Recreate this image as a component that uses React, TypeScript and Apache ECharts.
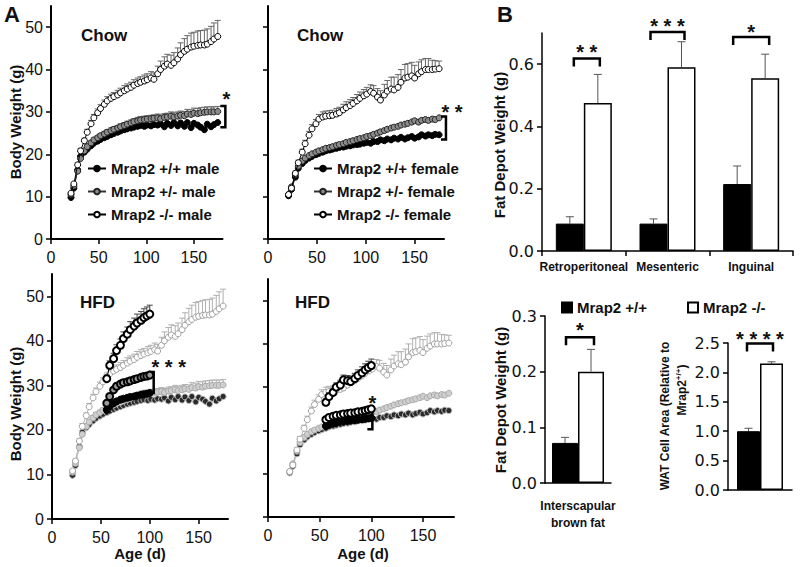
import React, { useEffect, useRef } from 'react';
import * as echarts from 'echarts';

const FONT = '"Liberation Sans", Arial, Helvetica, sans-serif';
const FONT_B = '"DejaVu Sans", Verdana, sans-serif';

// ---------- Panel A data (age in days, body weight in g) ----------
const chowDays = [21, 24, 28, 31, 35, 38, 42, 45, 49, 52, 56, 59, 63, 66, 70, 73, 77, 80, 84, 87, 91, 94, 98, 101, 105, 108, 112, 115, 119, 122, 126, 129, 133, 136, 140, 143, 147, 150, 154, 157, 161, 164, 168, 171, 175];

const maleKO = [10.8, 13, 17.5, 20.8, 23.2, 25.2, 27.2, 28.6, 29.8, 30.8, 31.8, 32.6, 33.2, 33.6, 34, 34.5, 35, 35.4, 35.8, 36.3, 36.7, 37, 37.3, 37.6, 38, 37.7, 39, 40, 40.8, 41.3, 41, 41.6, 42.5, 43.5, 44.3, 44.8, 45.3, 45.5, 45.7, 45.8, 45.8, 46, 46.6, 47.2, 47.8];
const maleKOErr = [0.3, 0.4, 0.5, 0.6, 0.6, 0.7, 0.8, 0.8, 0.9, 0.9, 1, 1, 1, 1, 1.1, 1.1, 1.2, 1.2, 1.2, 1.3, 1.3, 1.3, 1.4, 1.4, 1.5, 1.5, 1.8, 2, 2.2, 2.3, 2.4, 2.4, 2.6, 2.8, 3, 3.2, 3.3, 3.3, 3.4, 3.4, 3.5, 3.6, 3.6, 3.8, 3.8];
const maleHet = [10.5, 12.5, 16, 19, 20.8, 21.8, 22.7, 23.4, 23.9, 24.4, 24.8, 25.2, 25.6, 25.9, 26.2, 26.5, 26.8, 27.1, 27.4, 27.7, 27.9, 28.1, 28.2, 28.3, 28.4, 28.5, 28.6, 28.4, 28.7, 28.8, 29, 28.8, 29, 29.2, 29.1, 29.5, 29.4, 29.7, 29.6, 29.8, 29.9, 30, 30, 30, 30.1];
const maleHetErr = [0.3, 0.3, 0.4, 0.4, 0.4, 0.5, 0.5, 0.5, 0.5, 0.5, 0.6, 0.6, 0.6, 0.6, 0.6, 0.7, 0.7, 0.7, 0.7, 0.7, 0.8, 0.8, 0.8, 0.8, 0.8, 0.8, 0.9, 0.9, 0.9, 0.9, 1, 1, 1, 1, 1, 1.1, 1.1, 1.2, 1.2, 1.2, 1.2, 1.2, 1.2, 1.2, 1.2];
const maleWT = [9.8, 12, 16.3, 19.5, 20.5, 21.2, 22, 22.6, 23.1, 23.5, 23.9, 24.2, 24.6, 24.9, 25.2, 25.5, 25.8, 26, 26.2, 26.4, 26.6, 26.8, 26.6, 26.9, 26.7, 27, 26.9, 27.2, 26.5, 27.3, 26.8, 27.5, 26.7, 27.4, 26.6, 27.5, 26.3, 27.3, 26.9, 26.4, 25.8, 27.1, 26.5, 27, 27.5];

const femKO = [10.5, 12, 15.5, 18, 20.5, 22.5, 24.5, 26, 27.2, 28.3, 28.8, 29, 29.1, 29.2, 29.5, 29.8, 30.5, 31, 31.5, 32, 32.6, 33.2, 33.8, 34.2, 34.8, 34.4, 33.5, 32.8, 34, 34.9, 35.4, 35.2, 35.8, 37, 38, 38.2, 38.5, 38, 39, 39.5, 40, 40, 40, 40.1, 40.2];
const femKOErr = [0.3, 0.4, 0.5, 0.6, 0.7, 0.8, 0.9, 1, 1, 1.1, 1.2, 1.2, 1.2, 1.2, 1.3, 1.3, 1.3, 1.4, 1.4, 1.4, 1.5, 1.5, 1.5, 1.6, 1.6, 1.8, 2, 2.2, 2.5, 2.5, 2.8, 3, 3, 3, 3.2, 3.2, 3.2, 3, 2.8, 2.8, 2.6, 2.6, 2.2, 2, 1.8];
const femHet = [10.5, 12.3, 15.2, 17.2, 18.4, 19.1, 19.7, 20.1, 20.5, 20.8, 21.1, 21.4, 21.6, 21.8, 22.1, 22.3, 22.5, 22.8, 23, 23.2, 23.5, 23.7, 23.9, 24.2, 24.4, 24.7, 25, 25.3, 25.6, 25.9, 26.2, 26.4, 26.6, 26.9, 27.1, 27.3, 27.6, 27.9, 27.6, 28, 28.2, 28, 28.3, 28.2, 28.6];
const femWT = [10.2, 11.7, 14.6, 16.7, 17.8, 18.5, 19.1, 19.5, 19.9, 20.2, 20.5, 20.8, 21, 21.2, 21.4, 21.6, 21.7, 21.9, 22, 22.2, 22.3, 22.4, 22.6, 22.8, 22.6, 23, 23, 23.4, 23.2, 23.6, 23.4, 23.8, 23.6, 24, 23.6, 23.9, 24.2, 23.8, 24.1, 24.6, 24.3, 24.6, 24.4, 24.7, 24.6];

const hfdDays = [56, 59, 63, 66, 70, 73, 77, 80, 84, 87, 91, 94, 97, 100];
const maleHfdKO = [31.5, 34.5, 36, 37.8, 39, 40.5, 41.5, 42.5, 43.3, 44, 44.6, 45.2, 45.6, 46];
const maleHfdKOErr = [0.8, 1, 1.2, 1.3, 1.4, 1.5, 1.6, 1.8, 1.8, 2, 2, 2, 2, 2];
const maleHfdHet = [26, 27.5, 29, 29.8, 30.3, 30.6, 30.8, 31, 31.3, 31.5, 31.8, 32, 32.1, 32.3];
const maleHfdWT = [24.5, 25.3, 26, 26.4, 26.8, 27, 27.2, 27.4, 27.5, 27.7, 27.9, 28, 28.1, 28.3];
const femHfdKO = [26.5, 27.8, 28.8, 30, 30.5, 31.7, 31.5, 31.3, 32, 32.7, 33.3, 34, 34.5, 35];
const femHfdKOErr = [0.8, 0.9, 1, 1, 1.1, 1.1, 1.2, 1.2, 1.2, 1.3, 1.4, 1.4, 1.5, 1.5];
const femHfdHet = [22.5, 23, 23.3, 23.5, 23.6, 23.8, 23.9, 24, 24.1, 24.3, 24.4, 24.6, 24.8, 25];
const femHfdWT = [21, 21.4, 21.6, 21.8, 22, 22.1, 22.2, 22.3, 22.4, 22.5, 22.6, 22.7, 22.8, 22.9];

const ageTicks = [0, 50, 100, 150];
const weightTicks = [0, 10, 20, 30, 40, 50];

// ---------- Panel B data ----------
const depotCats = ['Retroperitoneal', 'Mesenteric', 'Inguinal'];
const depotWT = [0.088, 0.088, 0.215];
const depotWTErr = [0.022, 0.015, 0.058];
const depotKO = [0.475, 0.59, 0.555];
const depotKOErr = [0.092, 0.082, 0.077];
const depotTicks = [0, 0.2, 0.4, 0.6];

const brownCats = ['Interscapular\nbrown fat'];
const brownWT = [0.072];
const brownWTErr = [0.01];
const brownKO = [0.2];
const brownKOErr = [0.04];
const brownTicks = [0, 0.1, 0.2, 0.3];

const watCats = ['WAT'];
const watWT = [1.0];
const watWTErr = [0.05];
const watKO = [2.15];
const watKOErr = [0.03];
const watTicks = [0, 0.5, 1.0, 1.5, 2.0, 2.5];

const WT_NAME = 'Mrap2 +/+';
const KO_NAME = 'Mrap2 -/-';

function pts(days: number[], vals: number[]) {
  return days.map((d, i) => [d, vals[i]]);
}
function errPts(days: number[], vals: number[], errs: number[]) {
  return days.map((d, i) => [d, vals[i], errs[i]]);
}

function lineS(name: string, idx: number, days: number[], vals: number[], o: any) {
  return {
    type: 'line', name, xAxisIndex: idx, yAxisIndex: idx,
    data: pts(days, vals), symbol: 'circle', symbolSize: o.size ?? 6,
    lineStyle: { color: o.line, width: o.lw ?? 1 },
    itemStyle: { color: o.fill, borderColor: o.border, borderWidth: o.bw ?? 1 },
    z: o.z ?? 3, silent: true, animation: false,
  };
}

function errS(idx: number, days: number[], vals: number[], errs: number[], color: string, z = 2) {
  return {
    type: 'custom', xAxisIndex: idx, yAxisIndex: idx, z, silent: true,
    encode: { x: 0, y: 1 },
    data: errPts(days, vals, errs),
    renderItem: (params: any, api: any) => {
      const x = api.value(0), y = api.value(1), e = api.value(2);
      const p0 = api.coord([x, y]);
      const p1 = api.coord([x, y + e]);
      return {
        type: 'group', children: [
          { type: 'line', shape: { x1: p0[0], y1: p0[1], x2: p1[0], y2: p1[1] }, style: { stroke: color, lineWidth: 1 } },
          { type: 'line', shape: { x1: p1[0] - 3, y1: p1[1], x2: p1[0] + 3, y2: p1[1] }, style: { stroke: color, lineWidth: 1 } },
        ],
      };
    },
  };
}

function bracketA(idx: number, x: number, lo: number, hi: number, starY: number, stars: string, starDx: number) {
  return {
    type: 'custom', xAxisIndex: idx, yAxisIndex: idx, z: 6, silent: true, clip: false,
    encode: { x: 0, y: 1 },
    data: [[x, lo, hi, starY]],
    renderItem: (params: any, api: any) => {
      const pl = api.coord([api.value(0), api.value(1)]);
      const ph = api.coord([api.value(0), api.value(2)]);
      const ps = api.coord([api.value(0), api.value(3)]);
      return {
        type: 'group', children: [
          { type: 'polyline', shape: { points: [[ph[0] - 5, ph[1]], [ph[0], ph[1]], [pl[0], pl[1]], [pl[0] - 5, pl[1]]] }, style: { stroke: '#000', lineWidth: 2.5, fill: null } },
          { type: 'text', x: ps[0] + starDx, y: ps[1] + 5, style: { text: stars, font: `bold 20px ${FONT}`, fill: '#111', align: 'center', verticalAlign: 'middle' } },
        ],
      };
    },
  };
}

function barErrS(idx: number, vals: number[], errs: number[], off: number) {
  return {
    type: 'custom', xAxisIndex: idx, yAxisIndex: idx, z: 1, silent: true,
    encode: { x: 0, y: 1 },
    data: vals.map((v, i) => [i, v, errs[i]]),
    renderItem: (params: any, api: any) => {
      const c = api.value(0), v = api.value(1), e = api.value(2);
      const p0 = api.coord([c, v]);
      const p1 = api.coord([c, v + e]);
      const x = p0[0] + off;
      return {
        type: 'group', children: [
          { type: 'line', shape: { x1: x, y1: p0[1], x2: x, y2: p1[1] }, style: { stroke: '#555', lineWidth: 1 } },
          { type: 'line', shape: { x1: x - 4, y1: p1[1], x2: x + 4, y2: p1[1] }, style: { stroke: '#555', lineWidth: 1 } },
        ],
      };
    },
  };
}

function bracketB(idx: number, cat: number, level: number, starLevel: number, stars: string, half: number, dx = 0) {
  return {
    type: 'custom', xAxisIndex: idx, yAxisIndex: idx, z: 6, silent: true, clip: false,
    encode: { x: 0, y: 1 },
    data: [[cat, level, starLevel]],
    renderItem: (params: any, api: any) => {
      const p = api.coord([api.value(0), api.value(1)]);
      const ps = api.coord([api.value(0), api.value(2)]);
      const x1 = p[0] - half + dx, x2 = p[0] + half + dx;
      return {
        type: 'group', children: [
          { type: 'polyline', shape: { points: [[x1, p[1] + 8], [x1, p[1]], [x2, p[1]], [x2, p[1] + 8]] }, style: { stroke: '#000', lineWidth: 2.5, fill: null } },
          { type: 'text', x: ps[0] + dx, y: ps[1] + 5, style: { text: stars, font: `bold 20px ${FONT}`, fill: '#111', align: 'center', verticalAlign: 'middle' } },
        ],
      };
    },
  };
}

const axisLineA = { show: true, lineStyle: { color: '#000', width: 2 } };
const axisTickA = { show: true, length: 5, lineStyle: { color: '#000', width: 1.5 } };

function xAxisA(idx: number) {
  return {
    type: 'value', gridIndex: idx, min: 0, max: 180, interval: 50,
    axisLine: axisLineA,
    axisTick: { ...axisTickA, customValues: ageTicks },
    axisLabel: { customValues: ageTicks, fontSize: 16, fontFamily: FONT, color: '#111', margin: 10 },
    splitLine: { show: false },
  };
}
function yAxisA(idx: number) {
  return {
    type: 'value', gridIndex: idx, min: 0, max: 55, interval: 10,
    axisLine: axisLineA,
    axisTick: { ...axisTickA, customValues: weightTicks },
    axisLabel: { customValues: weightTicks, fontSize: 16, fontFamily: FONT, color: '#111', margin: 8, show: idx === 0 || idx === 2 },
    splitLine: { show: false },
  };
}

function rotText(text: string, x: number, y: number, font: string) {
  return { type: 'text', x, y, rotation: Math.PI / 2, style: { text, font, fill: '#111', align: 'center', verticalAlign: 'middle' } };
}
function plainText(text: string, x: number, y: number, font: string, align = 'left') {
  return { type: 'text', x, y, style: { text, font, fill: '#111', align, verticalAlign: 'middle' } };
}

const legendA = (names: string[], left: number) => ({
  data: names, orient: 'vertical', left, top: 155, itemWidth: 18, itemHeight: 7, itemGap: 6,
  selectedMode: false,
  textStyle: { fontSize: 15, fontWeight: 'bold', fontFamily: FONT, color: '#111', lineHeight: 17 },
});

function buildOption() {
  const series: any[] = [];
  // Chow male (grid 0)
  series.push(errS(0, chowDays, maleKO, maleKOErr, '#666'));
  series.push(errS(0, chowDays, maleHet, maleHetErr, '#666'));
  series.push(lineS('Mrap2 +/+ male', 0, chowDays, maleWT, { line: '#000', fill: '#000', border: '#000' }));
  series.push(lineS('Mrap2 +/- male', 0, chowDays, maleHet, { line: '#333', fill: '#8c8c8c', border: '#222', z: 4 }));
  series.push(lineS('Mrap2 -/- male', 0, chowDays, maleKO, { line: '#000', fill: '#fff', border: '#000', z: 5 }));
  series.push(bracketA(0, 183, 26.4, 31.4, 34.2, '*', 1));
  // Chow female (grid 1)
  series.push(errS(1, chowDays, femKO, femKOErr, '#666'));
  series.push(lineS('Mrap2 +/+ female', 1, chowDays, femWT, { line: '#000', fill: '#000', border: '#000' }));
  series.push(lineS('Mrap2 +/- female', 1, chowDays, femHet, { line: '#333', fill: '#8c8c8c', border: '#222', z: 4 }));
  series.push(lineS('Mrap2 -/- female', 1, chowDays, femKO, { line: '#000', fill: '#fff', border: '#000', z: 5 }));
  series.push(bracketA(1, 182, 23.5, 28.9, 31.2, '* *', 6));
  // HFD male (grid 2): chow curves in grey, HFD in black
  series.push(errS(2, chowDays, maleKO, maleKOErr, '#b0b0b0', 1));
  series.push(errS(2, chowDays, maleHet, maleHetErr, '#b0b0b0', 1));
  series.push(lineS('bg m +/+', 2, chowDays, maleWT, { line: '#c8c8c8', fill: '#2a2a2a', border: '#b8b8b8', z: 2 }));
  series.push(lineS('bg m +/-', 2, chowDays, maleHet, { line: '#c8c8c8', fill: '#cfcfcf', border: '#a8a8a8', z: 2 }));
  series.push(lineS('bg m -/-', 2, chowDays, maleKO, { line: '#b5b5b5', fill: '#fff', border: '#a0a0a0', z: 2 }));
  series.push(errS(2, hfdDays, maleHfdKO, maleHfdKOErr, '#444', 3));
  series.push(lineS('hfd m +/+', 2, hfdDays, maleHfdWT, { line: '#000', fill: '#000', border: '#000', size: 7, z: 6 }));
  series.push(lineS('hfd m +/-', 2, hfdDays, maleHfdHet, { line: '#000', fill: '#9a9a9a', border: '#000', bw: 2, size: 7, z: 6 }));
  series.push(lineS('hfd m -/-', 2, hfdDays, maleHfdKO, { line: '#000', fill: '#fff', border: '#000', bw: 2, size: 7, z: 6 }));
  series.push(bracketA(2, 104, 28.3, 33, 35.3, '* * *', 15));
  // HFD female (grid 3)
  series.push(errS(3, chowDays, femKO, femKOErr, '#b0b0b0', 1));
  series.push(lineS('bg f +/+', 3, chowDays, femWT, { line: '#c8c8c8', fill: '#2a2a2a', border: '#b8b8b8', z: 2 }));
  series.push(lineS('bg f +/-', 3, chowDays, femHet, { line: '#c8c8c8', fill: '#cfcfcf', border: '#a8a8a8', z: 2 }));
  series.push(lineS('bg f -/-', 3, chowDays, femKO, { line: '#b5b5b5', fill: '#fff', border: '#a0a0a0', z: 2 }));
  series.push(errS(3, hfdDays, femHfdKO, femHfdKOErr, '#444', 3));
  series.push(lineS('hfd f +/+', 3, hfdDays, femHfdWT, { line: '#000', fill: '#000', border: '#000', size: 7, z: 6 }));
  series.push(lineS('hfd f +/-', 3, hfdDays, femHfdHet, { line: '#000', fill: '#fff', border: '#000', bw: 2, size: 7, z: 6 }));
  series.push(lineS('hfd f -/-', 3, hfdDays, femHfdKO, { line: '#000', fill: '#fff', border: '#000', bw: 2, size: 7, z: 6 }));
  series.push(bracketA(3, 101, 20.3, 25.5, 27.6, '*', 0));

  // Panel B bars
  const barWT = (idx: number, data: number[], w: number) => ({
    type: 'bar', name: WT_NAME, xAxisIndex: idx, yAxisIndex: idx, data, barWidth: w, barGap: '0%',
    itemStyle: { color: '#000', borderColor: '#000', borderWidth: 1 }, z: 2, silent: true,
  });
  const barKO = (idx: number, data: number[], w: number) => ({
    type: 'bar', name: KO_NAME, xAxisIndex: idx, yAxisIndex: idx, data, barWidth: w, barGap: '0%',
    itemStyle: { color: '#fff', borderColor: '#000', borderWidth: 1.5 }, z: 2, silent: true,
  });
  series.push(barWT(4, depotWT, 28), barKO(4, depotKO, 28));
  series.push(barErrS(4, depotWT, depotWTErr, -14), barErrS(4, depotKO, depotKOErr, 14));
  series.push(bracketB(4, 0, 0.618, 0.655, '* *', 13, 3));
  series.push(bracketB(4, 1, 0.703, 0.738, '* * *', 17, 0));
  series.push(bracketB(4, 2, 0.687, 0.72, '*', 18, 0));

  series.push(barWT(5, brownWT, 26), barKO(5, brownKO, 26));
  series.push(barErrS(5, brownWT, brownWTErr, -13), barErrS(5, brownKO, brownKOErr, 13));
  series.push(bracketB(5, 0, 0.262, 0.283, '*', 14, 2));

  series.push(barWT(6, watWT, 23), barKO(6, watKO, 23));
  series.push(barErrS(6, watWT, watWTErr, -11.5), barErrS(6, watKO, watKOErr, 11.5));
  series.push(bracketB(6, 0, 2.49, 2.66, '* * * *', 13, 0));

  const axisLineB = { show: true, lineStyle: { color: '#000', width: 1.5 } };
  const yLabB = (vals: number[]) => ({ customValues: vals, fontSize: 16, fontFamily: FONT_B, color: '#111', margin: 8, formatter: (v: number) => v.toFixed(1) });

  return {
    animation: false,
    textStyle: { fontFamily: FONT },
    grid: [
      { left: 51, top: 6, width: 171.5, height: 233 },
      { left: 268, top: 6, width: 176, height: 233 },
      { left: 52, top: 274, width: 176, height: 245 },
      { left: 268, top: 279, width: 186, height: 238 },
      { left: 542, top: 33, width: 251, height: 218 },
      { left: 545, top: 316, width: 66, height: 167 },
      { left: 728, top: 343, width: 64, height: 147 },
    ],
    xAxis: [
      xAxisA(0), xAxisA(1), xAxisA(2), xAxisA(3),
      { type: 'category', gridIndex: 4, data: depotCats, axisLine: axisLineB, axisTick: { show: true, length: 5, lineStyle: { color: '#000', width: 1.5 } },
        axisLabel: { fontSize: 12, fontWeight: 'bold', fontFamily: FONT, color: '#111', margin: 10, interval: 0 } },
      { type: 'category', gridIndex: 5, data: brownCats, axisLine: axisLineB, axisTick: { show: false },
        axisLabel: { fontSize: 12, fontWeight: 'bold', fontFamily: FONT, color: '#111', margin: 14, lineHeight: 17 } },
      { type: 'category', gridIndex: 6, data: watCats, axisLine: axisLineB, axisTick: { show: false }, axisLabel: { show: false } },
    ],
    yAxis: [
      yAxisA(0), yAxisA(1), yAxisA(2), yAxisA(3),
      { type: 'value', gridIndex: 4, min: 0, max: 0.7, interval: 0.2, axisLine: axisLineB,
        axisTick: { show: true, length: 5, customValues: depotTicks, lineStyle: { color: '#000', width: 1.5 } }, axisLabel: yLabB(depotTicks), splitLine: { show: false } },
      { type: 'value', gridIndex: 5, min: 0, max: 0.3, interval: 0.1, axisLine: axisLineB,
        axisTick: { show: true, length: 5, customValues: brownTicks, lineStyle: { color: '#000', width: 1.5 } }, axisLabel: yLabB(brownTicks), splitLine: { show: false } },
      { type: 'value', gridIndex: 6, min: 0, max: 2.5, interval: 0.5, axisLine: axisLineB,
        axisTick: { show: true, length: 5, customValues: watTicks, lineStyle: { color: '#000', width: 1.5 } }, axisLabel: yLabB(watTicks), splitLine: { show: false } },
    ],
    legend: [
      legendA(['Mrap2 +/+ male', 'Mrap2 +/- male', 'Mrap2 -/- male'], 82),
      legendA(['Mrap2 +/+ female', 'Mrap2 +/- female', 'Mrap2 -/- female'], 308),
      { data: [WT_NAME, KO_NAME], orient: 'horizontal', left: 556, top: 295, itemWidth: 10, itemHeight: 10, itemGap: 40, icon: 'rect',
        selectedMode: false, textStyle: { fontSize: 15, fontWeight: 'bold', fontFamily: FONT, color: '#111' } },
    ],
    graphic: [
      plainText('A', 4, 14, `bold 22px ${FONT}`),
      plainText('B', 497, 14, `bold 22px ${FONT}`),
      plainText('Chow', 81, 35, `bold 17px ${FONT}`),
      plainText('Chow', 297, 35, `bold 17px ${FONT}`),
      plainText('HFD', 80, 302, `bold 17px ${FONT}`),
      plainText('HFD', 295, 302, `bold 17px ${FONT}`),
      rotText('Body Weight (g)', 15, 122, `bold 15px ${FONT}`),
      rotText('Body Weight (g)', 15, 404, `bold 15px ${FONT}`),
      plainText('Age (d)', 140, 553, `bold 15px ${FONT}`, 'center'),
      plainText('Age (d)', 363, 553, `bold 15px ${FONT}`, 'center'),
      rotText('Fat Depot Weight (g)', 499, 145, `bold 15px ${FONT}`),
      rotText('Fat Depot Weight (g)', 500, 400, `bold 15px ${FONT}`),
      {
        type: 'text', x: 665, y: 416, rotation: Math.PI / 2,
        style: { text: 'WAT Cell Area (Relative to', font: `bold 12px ${FONT}`, fill: '#111', align: 'center', verticalAlign: 'middle' },
      },
      {
        type: 'text', x: 682, y: 390, rotation: Math.PI / 2,
        style: {
          text: 'Mrap2{sup|+/+})', font: `bold 12px ${FONT}`, fill: '#111', align: 'center', verticalAlign: 'middle',
          rich: { sup: { fontSize: 8, fontWeight: 'bold', fontFamily: FONT, padding: [0, 0, 7, 0] } },
        },
      },
    ],
    series,
  };
}

export default function App() {
  const ref = useRef<HTMLDivElement>(null);
  useEffect(() => {
    document.body.style.margin = '0';
    if (!ref.current) return;
    const chart = echarts.init(ref.current, null, { renderer: 'svg' });
    chart.setOption(buildOption() as any);
    return () => chart.dispose();
  }, []);
  return <div ref={ref} style={{ width: 800, height: 567, background: '#fff' }} />;
}
